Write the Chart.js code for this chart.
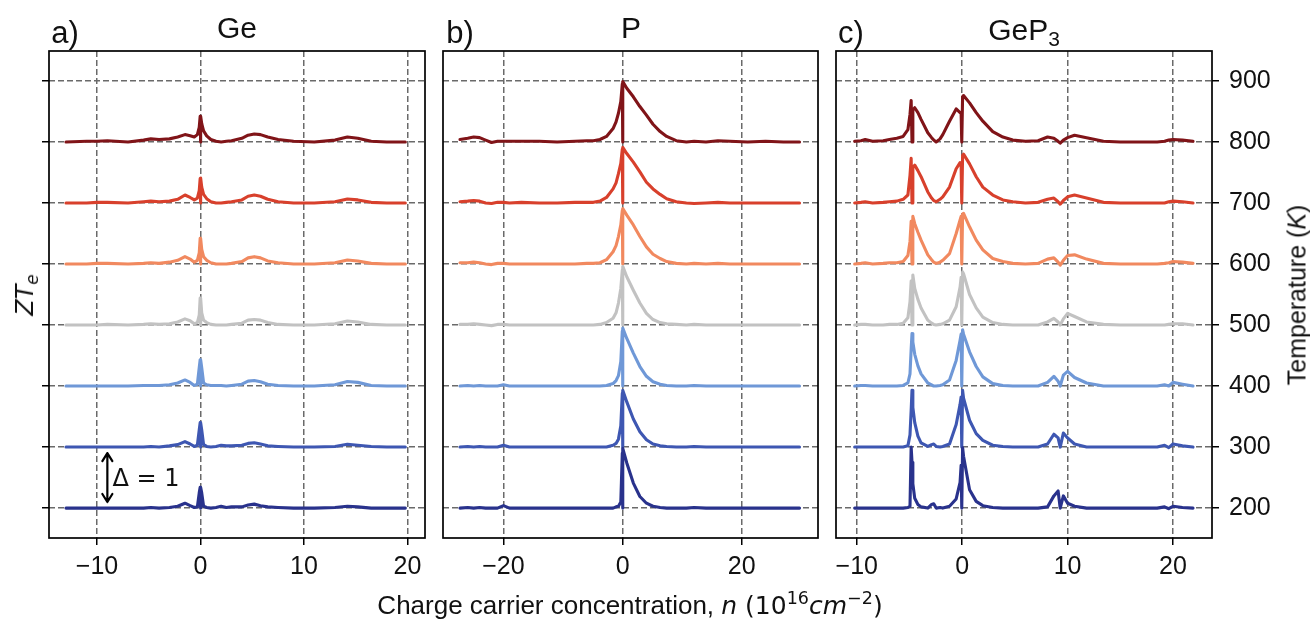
<!DOCTYPE html>
<html><head><meta charset="utf-8">
<script src="https://cdn.jsdelivr.net/npm/chart.js@4"></script>
<style>
html,body{margin:0;padding:0;background:#fff;}
#wrap{position:relative;width:1310px;height:620px;overflow:hidden;font-family:"Liberation Sans",Arial,sans-serif;color:#111;}
canvas{position:absolute;left:0;top:0;}
.t{position:absolute;white-space:nowrap;transform:translate(-50%,-50%);line-height:1;}
.r{transform:translate(-50%,-50%) rotate(-90deg);}
.m{font-family:"DejaVu Sans",sans-serif;}
sup,sub{font-size:0.7em;line-height:0;position:relative;vertical-align:baseline;}
sup{top:-0.55em;} sub{top:0.3em;}
</style></head><body>
<div id="wrap">
<canvas id="ca" width="1310" height="620"></canvas>
<canvas id="cb" width="1310" height="620"></canvas>
<canvas id="cc" width="1310" height="620"></canvas>
<div class="t" style="left:65px;top:32px;font-size:31px">a)</div>
<div class="t" style="left:237px;top:28px;font-size:30px">Ge</div>
<div class="t" style="left:460px;top:32px;font-size:31px">b)</div>
<div class="t" style="left:631px;top:28px;font-size:30px">P</div>
<div class="t" style="left:851px;top:32px;font-size:31px">c)</div>
<div class="t" style="left:1024px;top:30px;font-size:30px">GeP<sub>3</sub></div>
<div class="t r m" style="left:25px;top:295px;font-size:24px"><i>ZT</i><sub><i>e</i></sub></div>
<div class="t r" style="left:1297px;top:295px;font-size:25px">Temperature (<i>K</i>)</div>
<div class="t" style="left:630px;top:605px;font-size:26px">Charge carrier concentration, <span class="m" style="font-size:25px"><i>n</i> (10<sup>16</sup><i>cm</i><sup>−2</sup>)</span></div>
<div class="t m" style="left:146px;top:478px;font-size:24px">Δ = 1</div>
</div>
<script>
// ---- data ----
const temps = [200, 300, 400, 500, 600, 700, 800];
const yTicks = [200, 300, 400, 500, 600, 700, 800, 900];
const geTicks = [-10, 0, 10, 20];
const pTicks = [-20, 0, 20];
const gpTicks = [-10, 0, 10, 20];

// Ge: carrier concentration (1e16 cm^-2) and ZT_e per temperature
const geN = [-13,-11,-10,-9,-7,-5.5,-4.8,-4,-3,-2.2,-1.5,-1,-0.6,-0.3,-0.12,-0.03,0,0.03,0.12,0.3,0.6,1,1.5,2,2.5,3,4,4.6,5.2,5.8,6.5,7.5,9,11,13,14.2,15.2,16.5,18,19.8];
const ge200 = [0,0,0,0,0,0,0.01,0,0.01,0.03, 0.08,0.04,0.01,0.02,0.25,0.34,0,0.34,0.25,0.03, 0.01,0,0.01,0.03,0.01,0.02,0.02,0.05,0.065,0.04, 0.02,0.01,0,0,0.01,0.03,0.02,0,0,0];
const ge300 = [0,0,0,0,0,0,0.01,0,0.02,0.04, 0.09,0.05,0.01,0.03,0.28,0.4,0,0.4,0.28,0.04, 0.01,0,0.01,0.03,0.02,0.02,0.03,0.06,0.07,0.05, 0.02,0.01,0,0,0.01,0.045,0.03,0.01,0,0];
const ge400 = [0,0,0,0,0,0.01,0.01,0.01,0.02,0.05, 0.1,0.06,0.01,0.03,0.3,0.43,0,0.43,0.3,0.05, 0.02,0.01,0.01,0.01,0,0.01,0.03,0.08,0.09,0.07, 0.03,0.01,0,0,0.02,0.075,0.06,0.01,0,0];
const ge500 = [0,0,0,0.01,0,0.01,0.02,0.01,0.02,0.05, 0.1,0.07,0.02,0.04,0.16,0.44,0,0.44,0.2,0.08, 0.04,0.01,0,0,0,0.01,0.03,0.08,0.09,0.08, 0.04,0.01,0,0,0.02,0.065,0.05,0.01,0,0];
const ge600 = [0,0,0.01,0.01,0,0.01,0.02,0.01,0.03,0.06, 0.12,0.08,0.03,0.06,0.18,0.42,0,0.42,0.24,0.12, 0.06,0.02,0,0,0,0.01,0.04,0.1,0.12,0.1, 0.05,0.02,0,0,0.02,0.065,0.05,0.01,0,0];
const ge700 = [0,0,0.01,0.01,0,0.02,0.03,0.02,0.03,0.06, 0.13,0.09,0.05,0.08,0.2,0.4,0,0.41,0.26,0.14, 0.07,0.02,0,0,0.01,0.02,0.05,0.11,0.13,0.11, 0.06,0.02,0,0,0.02,0.065,0.05,0.01,0,0];
const ge800 = [0,0.01,0.01,0.02,0,0.03,0.05,0.04,0.05,0.08, 0.12,0.1,0.08,0.12,0.24,0.42,0,0.42,0.3,0.18, 0.1,0.04,0.01,0,0.01,0.02,0.06,0.11,0.13,0.12, 0.08,0.04,0.01,0,0.03,0.08,0.06,0.01,0,0];

// P
const pN = [-27.3,-26,-25,-24,-23,-22,-21,-20,-19,-17, -14,-11,-8,-6,-4.9,-3.8,-2.7,-1.6,-1.1,-0.7, -0.3,-0.05,0,0.05,0.7,1.8,2.9,4.0,5.1,6.3, 7.4,9,10.7,12,14,16,18,21,24,27,29.7];
const p200 = [0,0.01,0,0.01,0,0,0,0.04,0,0, 0,0,0,0,0,0,0,0,0.02,0.03, 0.1,0.9,0,0.98,0.74,0.41,0.19,0.08,0.03,0.01, 0,0,0,0.01,0,0,0,0,0,0,0];
const p300 = [0,0.01,0,0.01,0,0,0,0.03,0,0, 0,0,0,0,0,0,0,0.03,0.06,0.13, 0.35,0.88,0,0.93,0.74,0.46,0.25,0.12,0.05,0.02, 0.01,0,0,0.01,0,0,0,0,0,0,0];
const p400 = [0,0.01,0,0.01,0,0,0,0.02,0,0, 0,0,0,0,0,0,0.01,0.04,0.09,0.17, 0.4,0.9,0,0.95,0.78,0.54,0.32,0.16,0.07,0.03, 0.01,0,0,0.01,0,0,0,0,0,0,0];
const p500 = [0.01,0.01,0.02,0.01,0,-0.01,0.01,0.01,0,0, 0,0,0,0,0,0.01,0.04,0.11,0.2,0.36, 0.6,0.9,0,0.96,0.79,0.57,0.36,0.19,0.09,0.04, 0.02,0.01,0,0.01,0,0,0,0,0,0,0];
const p600 = [0.02,0.02,0.03,0.02,0,-0.01,0.01,0.01,0,0, 0,0,0,0.01,0.01,0.02,0.07,0.2,0.3,0.45, 0.64,0.88,0,0.91,0.8,0.64,0.45,0.28,0.16,0.09, 0.04,0.01,0,0.01,0,0.01,0,0,0,0,0];
const p700 = [0.02,0.03,0.04,0.03,0,-0.01,0.01,0.01,0,0.01, 0,0,0.01,0.01,0.01,0.03,0.09,0.23,0.33,0.48, 0.65,0.88,0,0.91,0.81,0.67,0.51,0.34,0.23,0.14, 0.07,0.02,0,-0.01,0,0.01,0,0,0,0,0];
const p800 = [0.04,0.06,0.08,0.07,0.03,-0.01,0.01,0.01,0.01,0.01, 0.01,0,0.01,0.02,0.02,0.04,0.09,0.22,0.33,0.47, 0.66,0.95,0,0.99,0.88,0.74,0.58,0.44,0.29,0.17, 0.09,0.02,0,0.01,0,0.02,0.01,0,0.01,0,0];

// GeP3
const gpN = [-10.2,-9.6,-9.2,-8.5,-7.5,-6.9,-6.2,-5.6,-5.15,-4.95, -4.84,-4.76,-4.68,-4.5,-4.2,-3.9,-3.26,-2.9,-2.7,-2.47, -2.1,-1.84,-1.2,-0.57,-0.2,-0.1,-0.04,0.04,0.13,0.7, 1.33,1.96,2.9,3.86,4.8,6,7.2,8.1,8.7,9.1, 9.3,9.6,10,10.66,11.8,13.4,15,17,18.5,19.2, 19.6,20,20.9,21.9];
const gp200 = [0,0,0,0,0,0,0,0,0.01,0.03, 1.0,0.75,0.4,0.16,0.06,0.02,0,0.06,0.07,0, 0.01,0,0.03,0.15,0.42,0.7,0,0.99,0.85,0.3, 0.11,0.04,0.01,0,0,0,0,0.02,0.2,0.28, 0,0.2,0.08,0.03,0,0,0,0,0,0.02, -0.01,0.03,0.01,0];
const gp300 = [0,0,0,0,0,0,0,0,0.02,0.2, 0.6,0.93,0.65,0.4,0.18,0.07,0.01,0.04,0.05,0.01, 0,0.01,0.05,0.37,0.7,0.82,0,0.93,0.8,0.44, 0.22,0.11,0.03,0.01,0,0,0,0.05,0.21,0.15, 0,0.23,0.15,0.05,0,0,0,0,0,0.03, -0.01,0.05,0.02,0];
const gp400 = [0,0.01,0.01,0,0,0,0,0.01,0.05,0.2, 0.6,0.86,0.72,0.52,0.33,0.2,0.05,0.02,0,0, 0.01,0.02,0.1,0.42,0.75,0.85,0,0.92,0.85,0.56, 0.32,0.15,0.04,0.01,0,0,0,0.06,0.16,0.08, 0,0.18,0.24,0.14,0.05,0,0,0,0,0.02, 0,0.06,0.03,0];
const gp500 = [0,0.01,0.01,0,0,0.01,0.01,0.03,0.12,0.38, 0.72,0,0.82,0.6,0.42,0.28,0.08,0.03,0.01,0, 0.01,0.02,0.08,0.3,0.62,0.78,0,0.87,0.84,0.5, 0.28,0.13,0.04,0.01,0,0,0,0.05,0.11,0.05, 0,0.1,0.19,0.14,0.05,0.01,0,0,0,0, 0.01,0.02,0.02,0];
const gp600 = [0,0.01,0.02,0,0.01,0.02,0.02,0.04,0.14,0.37, 0.7,0,0.78,0.66,0.52,0.39,0.15,0.07,0.03,0.01, 0.03,0.06,0.17,0.5,0.72,0.78,0,0.82,0.83,0.61, 0.39,0.23,0.09,0.04,0.01,0,0.01,0.08,0.1,0.03, -0.02,0.06,0.14,0.15,0.08,0.01,0,0,0,0.01, 0.02,0.04,0.03,0.01];
const gp700 = [0,0.01,0.02,0,0.01,0.02,0.03,0.06,0.13,0.45, 0.73,0,0.58,0.62,0.53,0.43,0.18,0.08,0.04,0.02, 0.06,0.1,0.26,0.56,0.66,0.62,0,0.78,0.8,0.64, 0.43,0.26,0.13,0.05,0.02,0,0.01,0.06,0.08,0.02, -0.02,0.04,0.1,0.13,0.08,0.01,0,0,0,0, 0.02,0.03,0.02,0];
const gp800 = [0.01,0.02,0.04,0.01,0.02,0.04,0.06,0.09,0.2,0.45, 0.68,0,0.52,0.56,0.48,0.37,0.15,0.07,0.03,0, 0.05,0.12,0.34,0.54,0.48,0.47,0,0.74,0.76,0.64, 0.48,0.34,0.17,0.08,0.03,0.01,0.02,0.08,0.06,0.01, -0.02,0.03,0.07,0.11,0.07,0.01,0,0,0,0.01, 0.03,0.04,0.03,0.01];

// annotation (data coordinates of panel a)
const deltaArrowX = -9.0, deltaArrowFrom = 210, deltaArrowTo = 290;

// ---- styles ----
const colors = ['#29328c', '#3e57b2', '#6f98d7', '#c2c2c2', '#f1895f', '#d8402c', '#801418'];
const zToTemp = 100; // Δ = 1 in ZT_e corresponds to one 100 K step

const frame = {
  id: 'frame',
  afterDatasetsDraw(chart) {
    const a = chart.chartArea, c = chart.ctx;
    c.save(); c.setLineDash([]); c.strokeStyle = '#000'; c.lineWidth = 1.7;
    c.strokeRect(a.left, a.top, a.right - a.left, a.bottom - a.top);
    const o = chart.options.plugins.frame || {};
    if (o.arrow) {
      const xs = chart.scales.x, ys = chart.scales.y;
      const px = xs.getPixelForValue(deltaArrowX);
      const y1 = ys.getPixelForValue(deltaArrowTo), y2 = ys.getPixelForValue(deltaArrowFrom);
      c.lineWidth = 2.2; c.lineCap = 'round'; c.lineJoin = 'round';
      c.beginPath(); c.moveTo(px, y1); c.lineTo(px, y2);
      c.moveTo(px - 5, y1 + 8); c.lineTo(px, y1); c.lineTo(px + 5, y1 + 8);
      c.moveTo(px - 5, y2 - 8); c.lineTo(px, y2); c.lineTo(px + 5, y2 - 8);
      c.stroke();
    }
    c.restore();
  }
};

function makePanel(id, xs, series, xmin, xmax, xt, yMode, pad) {
  const datasets = series.map((zt, i) => ({
    data: xs.map((x, j) => ({x: x, y: temps[i] + zt[j] * zToTemp})),
    borderColor: colors[i], borderWidth: 3.1, pointRadius: 0, tension: 0,
    borderJoinStyle: 'round', borderCapStyle: 'round', fill: false
  }));
  const tickFont = {family: 'Liberation Sans', size: 25};
  const gridColor = '#6a6a6a';
  const yScale = {
    type: 'linear', min: 151, max: 949,
    position: yMode === 'right' ? 'right' : 'left',
    afterBuildTicks: s => { s.ticks = yTicks.map(v => ({value: v})); },
    afterFit: s => { s.width = yMode === 'right' ? 60 : (yMode === 'left' ? 7 : 0); },
    grid: {color: gridColor, lineWidth: 1.5, drawTicks: yMode !== 'none', tickLength: 7,
           tickColor: '#000', tickWidth: 1.5, tickBorderDash: []},
    border: {display: false, dash: [6, 3]},
    ticks: {display: yMode === 'right', font: tickFont, color: '#111', padding: 10}
  };
  return new Chart(document.getElementById(id), {
    type: 'line',
    data: {datasets},
    plugins: [frame],
    options: {
      responsive: false, animation: false, events: [],
      layout: {padding: pad},
      plugins: {legend: {display: false}, tooltip: {enabled: false}, frame: {arrow: id === 'ca'}},
      scales: {
        x: {
          type: 'linear', min: xmin, max: xmax,
          afterBuildTicks: s => { s.ticks = xt.map(v => ({value: v})); },
          afterFit: s => { s.height = 40; },
          grid: {color: gridColor, lineWidth: 1.5, tickLength: 7, tickColor: '#000', tickWidth: 1.5, tickBorderDash: []},
          border: {display: false, dash: [6, 3]},
          ticks: {font: tickFont, color: '#111', padding: 7, maxRotation: 0,
                  callback: v => String(v).replace('-', '\u2212')}
        },
        y: yScale
      }
    }
  });
}

makePanel('ca', geN, [ge200, ge300, ge400, ge500, ge600, ge700, ge800], -14.64, 21.7, geTicks, 'left',
  {left: 42, right: 885, top: 51, bottom: 42});
makePanel('cb', pN, [p200, p300, p400, p500, p600, p700, p800], -30.15, 32.8, pTicks, 'none',
  {left: 443, right: 492, top: 51, bottom: 42});
makePanel('cc', gpN, [gp200, gp300, gp400, gp500, gp600, gp700, gp800], -11.97, 23.7, gpTicks, 'right',
  {left: 836, right: 38, top: 51, bottom: 42});
</script>
</body></html>
